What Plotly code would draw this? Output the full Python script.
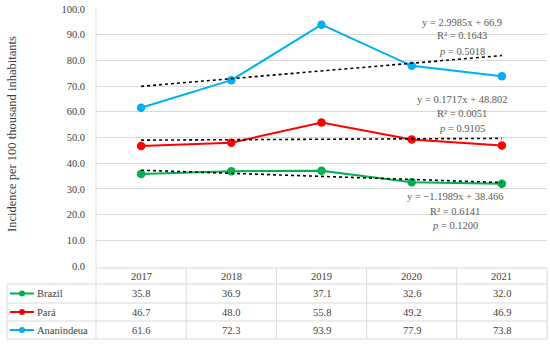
import plotly.graph_objects as go

W, H = 550, 344
years = ["2017", "2018", "2019", "2020", "2021"]
series_names = ["Brazil", "Pará", "Ananindeua"]
brazil = [35.8, 36.9, 37.1, 32.6, 32.0]
para = [46.7, 48.0, 55.8, 49.2, 46.9]
ananindeua = [61.6, 72.3, 93.9, 77.9, 73.8]
slopes = [-1.1989, 0.1717, 2.9985]
intercepts = [38.466, 48.802, 66.9]
r2 = ["0.6141", "0.0051", "0.1643"]
pvals = ["0.1200", "0.9105", "0.5018"]
eq_text = ["y = \u22121.1989x + 38.466", "y = 0.1717x + 48.802", "y = 2.9985x + 66.9"]
colors = ["#00b050", "#ff0000", "#00b0f0"]
values = [brazil, para, ananindeua]

FONT = "Liberation Serif"
TXT = "#404040"
GRID = "#d9d9d9"

def px(x):
    return x / W

def py(y):
    return 1 - y / H

L, R, T, B = 96, 547, 9, 266

fig = go.Figure()
xs = list(range(len(years)))
for name, vals, c, a, b in zip(series_names, values, colors, slopes, intercepts):
    fig.add_trace(go.Scatter(x=xs, y=vals, mode="lines+markers", name=name,
                             line=dict(color=c, width=2), marker=dict(size=8.5, color=c),
                             showlegend=False))
    fig.add_trace(go.Scatter(x=xs, y=[a * (i + 1) + b for i in xs], mode="lines",
                             line=dict(color="black", width=1.6, dash="dot"),
                             showlegend=False, hoverinfo="skip"))

fig.update_layout(
    width=W, height=H, margin=dict(l=0, r=0, t=0, b=0, autoexpand=False),
    paper_bgcolor="white", plot_bgcolor="white",
    font=dict(family=FONT, size=10, color=TXT),
    xaxis=dict(domain=[px(L), px(R)], range=[-0.5, len(years) - 0.5],
               showticklabels=False, showgrid=False, zeroline=False, fixedrange=True,
               automargin=False),
    yaxis=dict(domain=[py(B), py(T)], range=[0, 100], dtick=10, tickformat=".1f",
               showgrid=True, gridcolor=GRID, gridwidth=1, zeroline=False,
               showline=False, ticks="", ticklabelstandoff=10, automargin=False,
               tickfont=dict(family=FONT, size=10.5, color=TXT)),
)

shapes = []
def line(x0, y0, x1, y1, color=GRID, width=1):
    shapes.append(dict(type="line", xref="paper", yref="paper",
                       x0=px(x0), y0=py(y0), x1=px(x1), y1=py(y1),
                       line=dict(color=color, width=width)))

line(L, T, L, B)
row_lines = [268, 284, 303, 321, 339]
col_w = (R - L) / len(years)
cols = [L + i * col_w for i in range(len(years) + 1)]
line(L, row_lines[0], R, row_lines[0])
for y in row_lines[1:]:
    line(7, y, R, y)
line(7, row_lines[1], 7, row_lines[-1])
for x in cols:
    line(x, row_lines[0], x, row_lines[-1])

def ann(x, y, text, xanchor="center", size=10.5, color=TXT, **kw):
    annotations.append(dict(x=px(x), y=py(y), xref="paper", yref="paper", text=text,
                            xanchor=xanchor, yanchor="middle", showarrow=False,
                            font=dict(family=FONT, size=size, color=color), **kw))

annotations = []
ann(12, 134, "Incidence per 100 thousand inhabitants", size=12.5, textangle=-90)
for i, yr in enumerate(years):
    ann(L + (i + 0.5) * col_w, (row_lines[0] + row_lines[1]) / 2, yr)
for r, (name, vals, c) in enumerate(zip(series_names, values, colors)):
    yc = (row_lines[r + 1] + row_lines[r + 2]) / 2
    line(10, yc, 34, yc, color=c, width=2)
    shapes.append(dict(type="circle", xref="paper", yref="paper",
                       x0=px(19), x1=px(25), y0=py(yc + 3), y1=py(yc - 3),
                       fillcolor=c, line=dict(color=c, width=0)))
    ann(35, yc, name, xanchor="left")
    for i, v in enumerate(vals):
        ann(L + (i + 0.5) * col_w, yc, f"{v:.1f}")

label_pos = [(455, [196, 211, 225]), (462, [99, 114, 128]), (462, [22, 36, 51])]
for k in range(3):
    xc, ys = label_pos[k]
    texts = [eq_text[k], "R\u00b2 = " + r2[k], "<i>p</i> = " + pvals[k]]
    for t, y in zip(texts, ys):
        ann(xc, y, t, color="#595959")

fig.update_layout(shapes=shapes, annotations=annotations)
fig.write_html("out.html", config={"displayModeBar": False},
               post_script="document.body.style.margin='0';document.body.style.overflow='hidden';")
